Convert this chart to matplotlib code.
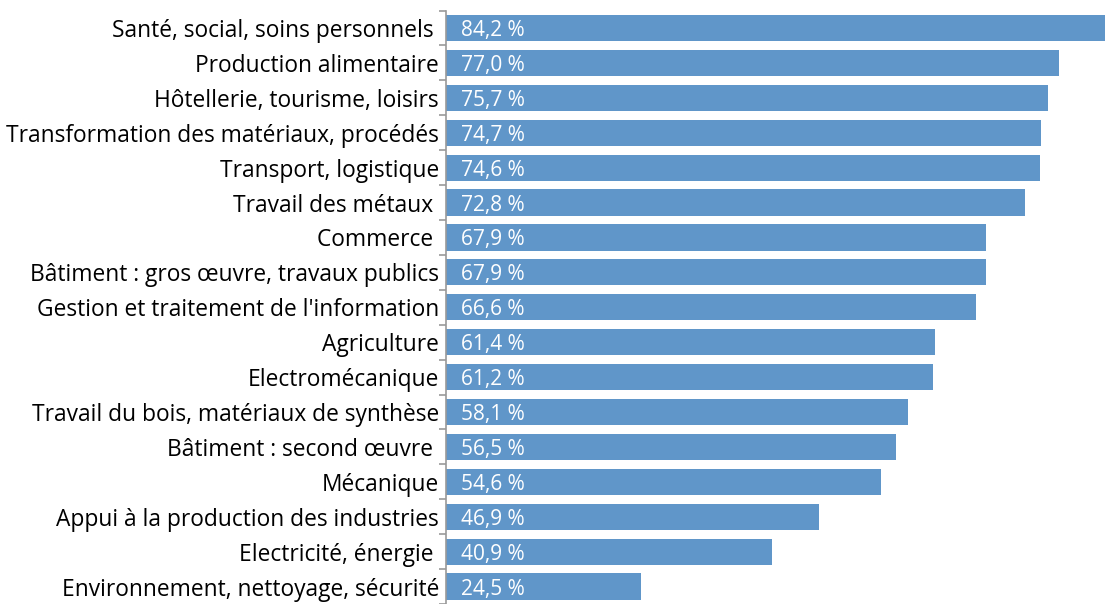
import matplotlib.pyplot as plt
from matplotlib.ticker import FixedLocator

categories = [
    "Santé, social, soins personnels ",
    "Production alimentaire",
    "Hôtellerie, tourisme, loisirs",
    "Transformation des matériaux, procédés",
    "Transport, logistique",
    "Travail des métaux ",
    "Commerce ",
    "Bâtiment : gros œuvre, travaux publics",
    "Gestion et traitement de l'information",
    "Agriculture",
    "Electromécanique",
    "Travail du bois, matériaux de synthèse",
    "Bâtiment : second œuvre ",
    "Mécanique",
    "Appui à la production des industries",
    "Electricité, énergie ",
    "Environnement, nettoyage, sécurité",
]
values = [84.2, 77.0, 75.7, 74.7, 74.6, 72.8, 67.9, 67.9, 66.6,
          61.4, 61.2, 58.1, 56.5, 54.6, 46.9, 40.9, 24.5]

plt.rcParams['font.family'] = ['Open Sans', 'DejaVu Sans']

fig = plt.figure(figsize=(11.05, 6.04), dpi=100)
ax = fig.add_axes([0.4036, 0.0, 0.5964, 0.9826])

y = list(range(len(categories)))
ax.barh(y, values, height=0.75, color='#6096C9')

# value labels inside the bars
for yi, v in zip(y, values):
    ax.text(1.9, yi, f"{v:.1f} %".replace('.', ','), color='white',
            va='center_baseline', ha='left', fontsize=15)

ax.set_yticks(y)
ax.set_yticklabels(categories, fontsize=16.4)
ax.invert_yaxis()
ax.set_ylim(16.5, -0.5)
ax.set_xlim(0, 82.8)

ax.tick_params(axis='y', which='major', length=0, pad=5)
ax.yaxis.set_minor_locator(FixedLocator([i - 0.5 for i in range(len(categories) + 1)]))
ax.tick_params(axis='y', which='minor', length=5, color='#999999', width=1.2)

for side in ['top', 'right', 'bottom']:
    ax.spines[side].set_visible(False)
ax.spines['left'].set_color('#999999')
ax.spines['left'].set_linewidth(1.2)
ax.set_xticks([])

fig.savefig('out.png', dpi=100)
